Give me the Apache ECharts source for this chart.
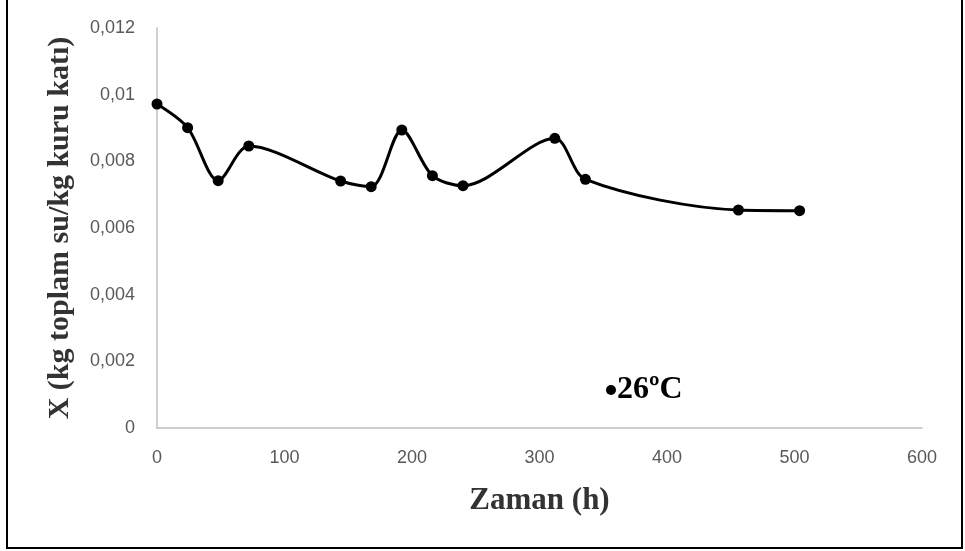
<!DOCTYPE html>
<html>
<head>
<meta charset="utf-8">
<script src="https://cdn.jsdelivr.net/npm/echarts@6/dist/echarts.min.js"></script>
<style>
  html, body { margin: 0; padding: 0; background: #ffffff; }
  #chart { width: 965px; height: 551px; }
</style>
</head>
<body>
<div id="chart"></div>
<script>
// Drying time (hours) and moisture content at 26 °C
const hours = [0, 24, 48, 72, 144, 168, 192, 216, 240, 312, 336, 456, 504];
const moisture = [0.00972, 0.00901, 0.00742, 0.00846, 0.00741, 0.00724, 0.00894,
                  0.00757, 0.00727, 0.00869, 0.00746, 0.00654, 0.00652];
const seriesName = '26ºC';
const xTitle = 'Zaman (h)';
const yTitle = 'X (kg toplam su/kg kuru katı)';

const points = hours.map((h, i) => [h, moisture[i]]);
const comma = v => String(parseFloat(v.toFixed(4))).replace('.', ',');

const chart = echarts.init(document.getElementById('chart'), null, { renderer: 'canvas' });
chart.setOption({
  backgroundColor: '#ffffff',
  animation: false,
  grid: { left: 157, right: 43, top: 28, bottom: 123 },
  legend: {
    data: [seriesName],
    left: 601,
    top: 369,
    icon: 'circle',
    itemWidth: 10,
    itemHeight: 10,
    itemGap: 0,
    textStyle: {
      fontFamily: 'Liberation Serif',
      fontWeight: 'bold',
      fontSize: 32,
      color: '#000000',
      padding: [0, 0, 0, -4]
    }
  },
  xAxis: {
    type: 'value',
    min: 0, max: 600, interval: 100,
    name: xTitle,
    nameLocation: 'middle',
    nameGap: 57,
    nameTextStyle: { fontFamily: 'Liberation Serif', fontWeight: 'bold', fontSize: 31, color: '#333333' },
    axisLine: { show: true, lineStyle: { color: '#bfbfbf', width: 1.5 } },
    axisTick: { show: false },
    splitLine: { show: false },
    axisLabel: { margin: 21, fontFamily: 'Liberation Sans', fontSize: 18, color: '#595959' }
  },
  yAxis: {
    type: 'value',
    min: 0, max: 0.012, interval: 0.002,
    name: yTitle,
    nameLocation: 'middle',
    nameGap: 82,
    nameTextStyle: { fontFamily: 'Liberation Serif', fontWeight: 'bold', fontSize: 30, color: '#333333' },
    axisLine: { show: true, lineStyle: { color: '#bfbfbf', width: 1.5 } },
    axisTick: { show: false },
    splitLine: { show: false },
    axisLabel: { margin: 22, fontFamily: 'Liberation Sans', fontSize: 18, color: '#595959', formatter: comma }
  },
  series: [{
    name: seriesName,
    type: 'line',
    data: points,
    smooth: 0.3,
    symbol: 'circle',
    symbolSize: 11,
    itemStyle: { color: '#000000' },
    lineStyle: { color: '#000000', width: 3 }
  }],
  graphic: [{
    type: 'rect',
    shape: { x: 7, y: -2, width: 955, height: 550 },
    style: { fill: 'none', stroke: '#000000', lineWidth: 2 },
    silent: true
  }]
});
</script>
</body>
</html>
